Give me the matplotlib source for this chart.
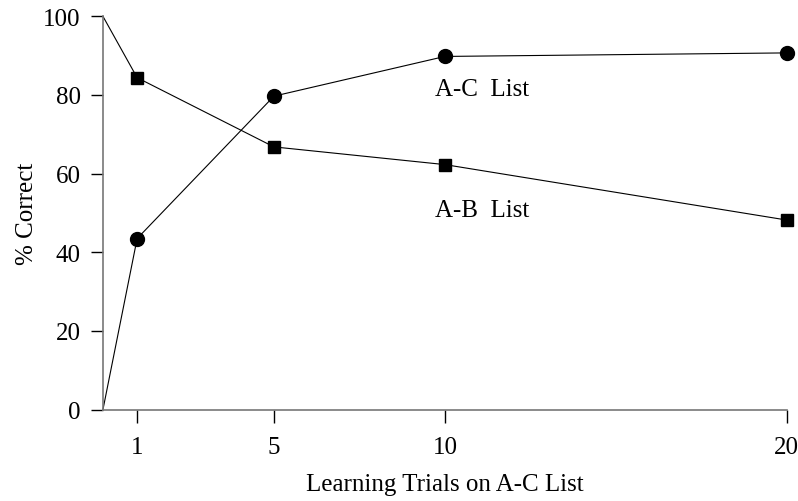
import matplotlib.pyplot as plt

# data
trials = [0, 1, 5, 10, 20]
ac_correct = [0, 43.5, 79.7, 89.8, 90.7]
ab_correct = [100, 84.4, 66.8, 62.3, 48.2]
x_ticks = [1, 5, 10, 20]
y_ticks = [0, 20, 40, 60, 80, 100]

plt.rcParams["font.family"] = ["Liberation Serif", "DejaVu Serif"]
FS = 18

fig = plt.figure(figsize=(7.98, 5.02), dpi=100)
ax = fig.add_axes([0.129, 0.182, 0.857, 0.7835])

ax.plot(trials, ac_correct, color="black", lw=0.8, marker="o", ms=10,
        markevery=[1, 2, 3, 4], clip_on=False)
ax.plot(trials, ab_correct, color="black", lw=0.8, marker="s", ms=9,
        markevery=[1, 2, 3, 4], clip_on=False)

ax.text(9.7, 81.6, "A-C  List", fontsize=FS, va="center", ha="left")
ax.text(9.7, 50.7, "A-B  List", fontsize=FS, va="center", ha="left")

ax.set_xlim(0, 20)
ax.set_ylim(0, 100)
ax.set_xticks(x_ticks)
ax.set_yticks(y_ticks)
ax.tick_params(labelsize=FS, length=9, width=1, color="black")
ax.tick_params(axis="x", pad=10)
ax.tick_params(axis="y", pad=7)

for side in ("top", "right"):
    ax.spines[side].set_visible(False)
for side in ("left", "bottom"):
    ax.spines[side].set_color("#777777")
    ax.spines[side].set_linewidth(1.2)

ax.set_xlabel("Learning Trials on A-C List", fontsize=FS, labelpad=11)
ax.set_ylabel("% Correct", fontsize=FS, labelpad=4)

fig.savefig("out.png", dpi=100)
